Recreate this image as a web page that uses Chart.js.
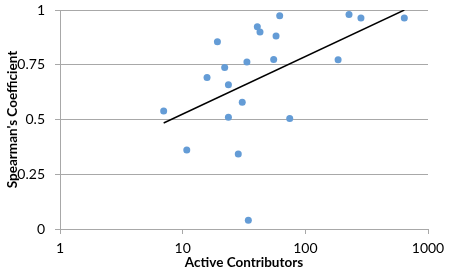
<!DOCTYPE html>
<html>
<head>
<meta charset="utf-8">
<script src="https://cdn.jsdelivr.net/npm/chart.js@4"></script>
<style>
  html, body { margin: 0; padding: 0; background: #fff; }
  #wrap { width: 452px; height: 272px; }
</style>
</head>
<body>
<div id="wrap"><canvas id="spearmanChart" width="452" height="272"></canvas></div>
<script>
// Active contributors vs Spearman's coefficient
var contributors = [7, 10.8, 15.8, 19.2, 22.0, 23.6, 23.6, 28.4, 30.6, 34.3, 33.4,
                    40.6, 42.7, 57.7, 61.8, 55.2, 74.6, 185, 227, 284, 641];
var spearman = [0.539, 0.361, 0.692, 0.855, 0.738, 0.659, 0.510, 0.343, 0.579, 0.040, 0.762,
                0.923, 0.899, 0.881, 0.974, 0.774, 0.504, 0.773, 0.979, 0.963, 0.963];

// log trendline end points
var trendX = [7, 641];
var trendY = [0.484, 1.0];

var xTicks = [1, 10, 100, 1000];
var yTicks = [0, 0.25, 0.5, 0.75, 1];

var points = contributors.map(function(c, i) { return {x: c, y: spearman[i]}; });
var trend = trendX.map(function(t, i) { return {x: t, y: trendY[i]}; });

var gridGray = '#a8a8a8';
var tickFont = {family: 'Lato', size: 14};
var titleFont = {family: 'Lato', size: 13.5, weight: 'bold'};

var ctx = document.getElementById('spearmanChart').getContext('2d');
var spearmanChart = new Chart(ctx, {
    type: 'scatter',
    data: {
        datasets: [{
            label: 'Projects',
            data: points,
            backgroundColor: 'rgb(100, 156, 214)',
            borderWidth: 0,
            pointRadius: 3.5
        }, {
            label: 'Trend',
            type: 'line',
            data: trend,
            borderColor: '#000',
            borderWidth: 1.4,
            pointRadius: 0,
            fill: false
        }]
    },
    options: {
        responsive: false,
        animation: false,
        layout: { autoPadding: false, padding: {top: 10, right: 24, left: 0, bottom: 0} },
        plugins: {
            legend: { display: false },
            tooltip: { enabled: false }
        },
        scales: {
            x: {
                type: 'logarithmic',
                min: 1,
                max: 1000,
                afterBuildTicks: function(scale) {
                    scale.ticks = xTicks.map(function(v) { return {value: v}; });
                },
                afterFit: function(scale) {
                    scale.height = 43;
                    scale.paddingLeft = 0;
                    scale.paddingRight = 0;
                },
                border: { display: true, color: gridGray, width: 1 },
                grid: { drawOnChartArea: false, drawTicks: true, tickLength: 5, color: gridGray },
                ticks: {
                    color: '#000',
                    font: tickFont,
                    padding: 6,
                    maxRotation: 0,
                    callback: function(v) { return String(v); }
                },
                title: {
                    display: true,
                    text: 'Active Contributors',
                    color: '#000',
                    font: titleFont,
                    padding: {top: 0, bottom: 1}
                }
            },
            y: {
                min: 0,
                max: 1,
                afterBuildTicks: function(scale) {
                    scale.ticks = yTicks.map(function(v) { return {value: v}; });
                },
                afterFit: function(scale) {
                    scale.width = 60;
                    scale.paddingTop = 0;
                    scale.paddingBottom = 0;
                },
                border: { display: true, color: gridGray, width: 1 },
                grid: { color: gridGray, tickLength: 5 },
                ticks: {
                    color: '#000',
                    font: tickFont,
                    padding: 10,
                    callback: function(v) { return String(v); }
                },
                title: {
                    display: true,
                    text: "Spearman's Coefficient",
                    color: '#000',
                    font: titleFont,
                    padding: {top: 5, bottom: 0}
                }
            }
        }
    }
});
</script>
</body>
</html>
